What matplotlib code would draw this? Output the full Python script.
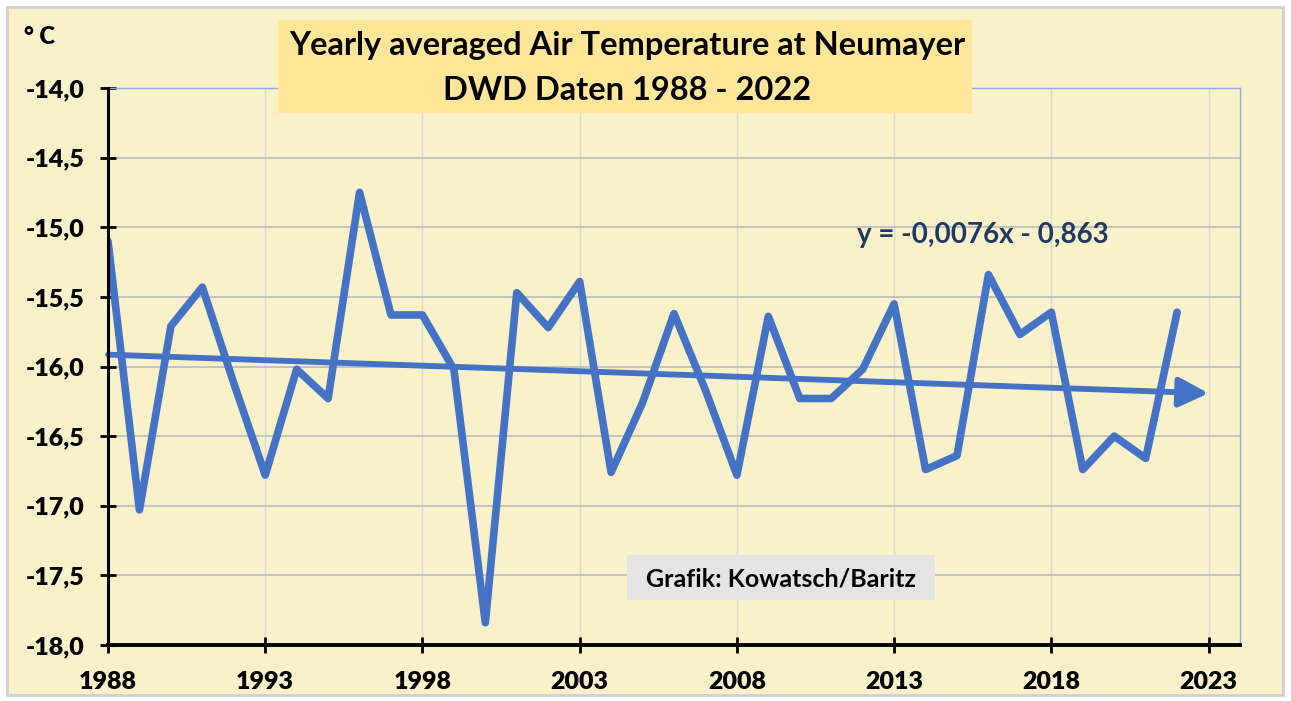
import matplotlib.pyplot as plt
from matplotlib.patches import Rectangle
from matplotlib.ticker import FuncFormatter
import numpy as np

# Yearly averaged air temperature at Neumayer
years = list(range(1988, 2023))
temps = [-15.10, -17.03, -15.71, -15.43, -16.12, -16.78, -16.02, -16.23, -14.75, -15.63,
         -15.63, -16.02, -17.84, -15.47, -15.72, -15.39, -16.76, -16.26, -15.62, -16.17,
         -16.78, -15.64, -16.23, -16.23, -16.02, -15.55, -16.74, -16.64, -15.34, -15.77,
         -15.61, -16.74, -16.50, -16.66, -15.61]
x_ticks = list(range(1988, 2024, 5))
y_ticks = [-18.0, -17.5, -17.0, -16.5, -16.0, -15.5, -15.0, -14.5, -14.0]

title_lines = ["Yearly averaged Air Temperature at Neumayer", "DWD Daten 1988 - 2022"]
equation = "y = -0,0076x - 0,863"
credit = "Grafik: Kowatsch/Baritz"

line_color = '#4472C4'
bg = '#F8F1CA'
font = 'Lato'
W, H = 1291, 701


def fx(px):
    return px / W


def fy(py):
    return 1 - py / H


fig = plt.figure(figsize=(W / 100, H / 100), dpi=100)
fig.patch.set_facecolor('white')
# cream chart area with grey frame
fig.patches.append(Rectangle((fx(7), fy(695)), fx(1276), 688 / H, transform=fig.transFigure,
                             facecolor=bg, edgecolor='#D0D0D0', linewidth=2, zorder=-5))

ax = fig.add_axes([fx(108), fy(645), fx(1240 - 108), (645 - 88) / H])
ax.set_facecolor(bg)

ax.plot(years, temps, color=line_color, linewidth=5.5, solid_joinstyle='round',
        solid_capstyle='round', zorder=3)

# linear trend, extended one year forward with an arrow head
coef = np.polyfit(years, temps, 1)
x0, x1 = years[0], years[-1] + 1
ax.annotate('', xy=(x1, np.polyval(coef, x1)), xytext=(x0, np.polyval(coef, x0)),
            arrowprops=dict(arrowstyle='-|>,head_length=0.9,head_width=0.45', color=line_color,
                            lw=4.2, shrinkA=0, shrinkB=0, mutation_scale=20), zorder=4)

ax.set_xlim(1988, 2024)
ax.set_ylim(-18, -14)
ax.set_xticks(x_ticks)
ax.set_yticks(y_ticks)
ax.yaxis.set_major_formatter(FuncFormatter(lambda v, p: f'{v:.1f}'.replace('.', ',')))

ax.grid(axis='y', color='#BFBFBF', linewidth=1.3, zorder=1)
ax.grid(axis='x', color='#D9D9D9', linewidth=1.0, zorder=1)
ax.set_axisbelow(True)

for s in ['top', 'right']:
    ax.spines[s].set_color('#8EA9DB')
    ax.spines[s].set_linewidth(1.0)
ax.spines['left'].set_linewidth(2.2)
ax.spines['bottom'].set_linewidth(2.8)
ax.spines['left'].set_zorder(5)
ax.spines['bottom'].set_zorder(5)

ax.tick_params(axis='both', direction='inout', length=12, width=2, color='black')
ax.tick_params(axis='y', pad=11)
ax.tick_params(axis='x', pad=13)
for lab in ax.get_xticklabels() + ax.get_yticklabels():
    lab.set_fontfamily(font)
    lab.set_fontweight('heavy')
    lab.set_fontsize(18)

fig.text(fx(24), fy(37), '° C', fontfamily=font, fontweight='heavy', fontsize=17,
         va='center', ha='left')

# title box
fig.patches.append(Rectangle((fx(278), fy(113)), fx(972 - 278), (113 - 20) / H,
                             transform=fig.transFigure, facecolor='#FFE699', edgecolor='none',
                             zorder=5))
fig.text(fx(627), fy(46), title_lines[0], fontfamily=font, fontweight='bold', fontsize=23.5,
         ha='center', va='center', zorder=6)
fig.text(fx(627), fy(90), title_lines[1], fontfamily=font, fontweight='bold', fontsize=23.5,
         ha='center', va='center', zorder=6)

fig.text(fx(983), fy(235), equation, fontfamily=font, fontweight='bold', fontsize=20,
         color='#1F3864', ha='center', va='center')

# credit box
fig.patches.append(Rectangle((fx(627), fy(600)), fx(935 - 627), (600 - 555) / H,
                             transform=fig.transFigure, facecolor='#E4E4E4', edgecolor='none',
                             zorder=5))
fig.text(fx(781), fy(579), credit, fontfamily=font, fontweight='bold', fontsize=18,
         ha='center', va='center', zorder=6)

plt.savefig('out.png', dpi=100, facecolor=fig.get_facecolor())
